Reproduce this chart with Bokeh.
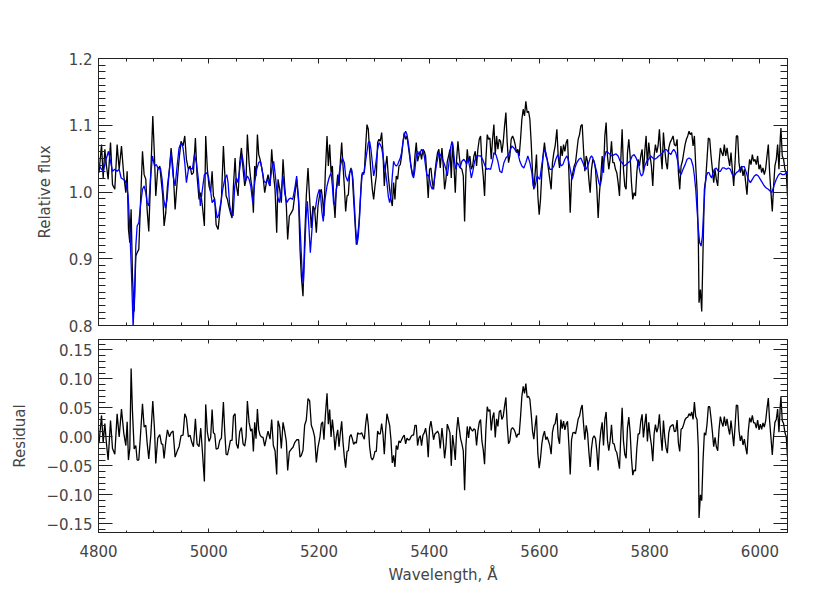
from bokeh.plotting import figure
from bokeh.layouts import column
from bokeh.models import SingleIntervalTicker, FixedTicker, LinearAxis, CustomJSTickFormatter, Range1d
from bokeh.embed import file_html
from bokeh.resources import INLINE

# ---------------- data ----------------
wl_obs = [4801, 4805.5, 4808.5, 4811.5, 4814.5, 4817.5, 4821.8, 4825.4, 4829.6, 4833.8, 4837.5, 4841.7,
          4845.9, 4849.6, 4852, 4854.4, 4856.8, 4859.2, 4861.6, 4864.7, 4867.7, 4870.1, 4873.1, 4876.1,
          4879.8, 4882.8, 4885.8, 4888.2, 4891.2, 4894.9, 4898.5, 4901.5, 4903.9, 4907.5, 4911.2, 4914.2,
          4916.6, 4919, 4922, 4925.1, 4928.7, 4931.7, 4935.3, 4939, 4942.6, 4946.2, 4949.8, 4953.4,
          4956.5, 4959.5, 4963.1, 4966.1, 4969.1, 4972.2, 4975.8, 4978.8, 4982.4, 4985.5, 4988.5, 4992.1,
          4994.5, 4997.5, 5000.5, 5003.5,
          5006.1, 5008.5, 5010.9, 5013.4, 5017, 5020, 5023, 5026.6, 5029, 5031.5, 5033.9, 5036.3,
          5039.3, 5042.3, 5044.8, 5047.8, 5050.2, 5053.2, 5056.2, 5059.3, 5062.3, 5065.3, 5067.7, 5070.1,
          5073.2, 5076.2, 5078.6, 5081, 5083.4, 5085.8, 5088.3, 5090.7, 5093.1, 5095.5, 5098.5, 5101.5,
          5104.6, 5107.6, 5111.2, 5114.2, 5117.2, 5120.3, 5123.3, 5125.7, 5128.7, 5131.7, 5134.8, 5137.8,
          5140.8, 5143.2, 5146.2, 5149.9, 5152.9, 5155.9, 5159.5, 5163.1, 5165.6, 5168, 5171, 5174,
          5177, 5180.1, 5183.1, 5186.1, 5189.1, 5192.1, 5195.2, 5198.2, 5201.8, 5204.2, 5206.6, 5209,
          5211.5,
          5214.6, 5217, 5219.4, 5221.9, 5224.3, 5226.7, 5229.1, 5231.5, 5234, 5236.4, 5238.8, 5241.2,
          5243.6, 5246, 5248.4, 5250.9, 5253.3, 5255.7, 5258.1, 5260.5, 5262.9, 5265.4, 5267.8, 5270.2,
          5272.6, 5275, 5277.4, 5279.8, 5282.3, 5284.7, 5287.1, 5289.5, 5291.9, 5294.3, 5296.8, 5299.2,
          5301.6, 5304, 5306.4, 5308.8, 5311.2, 5313.7, 5316.1, 5318.5, 5320.9, 5323.3, 5325.7, 5328.2,
          5330.6, 5333, 5335.4, 5337.8, 5340.2, 5342.7, 5345.1, 5347.5, 5349.9, 5352.3, 5354.7, 5357.2,
          5359.6, 5362, 5364.4, 5366.8, 5369.2, 5371.6, 5374.1, 5376.5, 5378.9, 5381.3, 5383.7, 5386.1,
          5388.6, 5391, 5393.4, 5395.8, 5398.2, 5400.6, 5403.1, 5405.5, 5407.9, 5410.3, 5412.7, 5415.1,
          5417.5, 5420,
          5423.1, 5425.5, 5427.9, 5430.4, 5432.8, 5435.2, 5437.6, 5440, 5442.4, 5444.9, 5447.3, 5449.7,
          5452.1, 5454.5, 5456.9, 5459.3, 5461.8, 5464.2, 5466.6, 5469, 5471.4, 5473.8, 5476.3, 5478.7,
          5481.1, 5483.5, 5485.9, 5488.3, 5490.8, 5493.2, 5495.6, 5498, 5500.4, 5502.8, 5505.3, 5507.7,
          5510.1, 5512.5, 5514.9, 5517.3, 5519.8, 5522.2, 5524.6, 5527, 5529.4, 5531.8, 5534.2, 5536.7,
          5539.1, 5541.5, 5543.9, 5546.3, 5548.7, 5551.2, 5553.6, 5556, 5558.4, 5560.8, 5563.2, 5565.7,
          5568.1, 5570.5, 5572.9, 5575.3, 5577.7, 5580.2, 5582.6, 5585, 5587.4, 5589.8, 5592.2, 5594.6,
          5597.1, 5599.5, 5601.9, 5604.3, 5606.7, 5609.1, 5611.6, 5614, 5616.4, 5618.8, 5621.2, 5623.6,
          5626.1, 5628.5,
          5631.6, 5634, 5636.4, 5638.9, 5641.3, 5643.7, 5646.1, 5648.5, 5650.9, 5653.4, 5655.8, 5658.2,
          5660.6, 5663, 5665.4, 5667.8, 5670.3, 5672.7, 5675.1, 5677.5, 5679.9, 5682.3, 5684.8, 5687.2,
          5689.6, 5692, 5694.4, 5696.8, 5699.3, 5701.7, 5704.1, 5706.5, 5708.9, 5711.3, 5713.8, 5716.2,
          5718.6, 5721, 5723.4, 5725.8, 5728.2, 5730.7, 5733.1, 5735.5, 5737.9, 5740.3, 5742.7, 5745.2,
          5747.6, 5750, 5752.4, 5754.8, 5757.2, 5759.7, 5762.1, 5764.5, 5766.9, 5769.3, 5771.7, 5774.2,
          5776.6, 5779, 5781.4, 5783.8, 5786.2, 5788.6, 5791.1, 5793.5, 5795.9, 5798.3, 5800.7, 5803.1,
          5805.6, 5808, 5810.4, 5812.8, 5815.2, 5817.6, 5820.1, 5822.5, 5824.9, 5827.3, 5829.7, 5832.1,
          5834.6, 5837,
          5840, 5842.4, 5844.8, 5847.3, 5849.7, 5852.1, 5854.5, 5856.9, 5859.3, 5861.8, 5864.2, 5866.6,
          5869, 5871.4, 5873.8, 5876.2, 5878.7, 5881.1, 5883.5, 5885.9, 5888.3, 5889.5, 5892, 5894.4,
          5896.8, 5899.2, 5901.6, 5904, 5906.4, 5908.9, 5911.3, 5913.7, 5916.1, 5918.5, 5920.9, 5923.4,
          5925.8, 5928.2, 5930.6, 5933, 5935.4, 5937.9, 5940.3, 5942.7, 5945.1, 5947.5, 5949.9, 5952.4,
          5954.8, 5957.2, 5959.6, 5962, 5964.4, 5966.8, 5969.3, 5971.7, 5974.1, 5976.5, 5978.9, 5981.3,
          5983.8, 5986.2, 5988.6, 5991, 5993.4, 5995.8, 5998.3, 6000.7, 6003.1, 6005.5, 6007.9, 6010.3,
          6012.8, 6015.2, 6017.6, 6020, 6022.4, 6024.8, 6027.2, 6029.7, 6032.1, 6034.5, 6036.9, 6038.1,
          6040.5, 6042.9, 6045.4, 6047.8, 6050]
flux_obs = [1.029, 1.071, 1.021, 1.064, 1.039, 1.019, 1.074, 1.011, 1.004, 1.071, 1.034, 1.069,
            1.024, 0.999, 1.031, 0.944, 0.924, 0.974, 0.874, 0.821, 0.904, 0.909, 0.914, 0.981,
            1.061, 1.026, 1.019, 0.974, 0.941, 1.029, 1.114, 1.054, 0.994, 1.034, 1.039, 1.014,
            0.994, 0.949, 0.969, 1.009, 1.034, 1.066, 1.034, 0.974, 1.014, 1.049, 1.076, 1.069,
            1.084, 1.049, 1.034, 1.039, 1.026, 1.029, 1.081, 1.024, 0.989, 0.999, 0.979, 0.949,
            1.084, 1.034, 1.009, 1.000,
            1.031, 0.994, 0.989, 0.951, 0.944, 0.969, 0.989, 1.069, 1.029, 0.994, 0.989, 0.979,
            0.969, 0.961, 1.009, 1.051, 1.009, 0.994, 1.044, 1.066, 1.034, 1.009, 1.019, 1.086,
            1.044, 1.019, 1.006, 0.969, 1.039, 1.024, 1.086, 1.056, 1.049, 1.039, 1.024, 0.999,
            1.014, 1.026, 1.009, 1.064, 1.029, 1.004, 0.939, 1.019, 1.004, 0.984, 1.049, 1.009,
            0.979, 0.929, 0.964, 0.969, 0.974, 0.994, 1.019, 0.984, 0.914, 0.874, 0.844, 0.929,
            0.994, 1.036, 0.989, 0.946, 0.979, 0.974, 0.939, 0.979, 0.999, 1.004, 0.989, 0.964,
            1.029,
            1.084, 1.039, 1.071, 1.029, 1.039, 0.989, 0.961, 1.004, 1.026, 1.009, 1.046, 1.074,
            1.039, 1.009, 0.971, 0.994, 0.996, 1.029, 1.036, 1.024, 0.989, 0.954, 0.921, 0.934,
            0.954, 0.989, 1.024, 1.029, 1.029, 1.069, 1.101, 1.094, 1.059, 1.029, 1.004, 0.989,
            1.009, 1.024, 1.074, 1.079, 1.076, 1.089, 1.059, 1.009, 1.039, 1.054, 1.024, 1.004,
            0.989, 0.979, 1.014, 0.989, 1.024, 1.019, 1.039, 1.041, 1.054, 1.074, 1.089, 1.079,
            1.084, 1.069, 1.054, 1.039, 1.029, 1.024, 1.054, 1.074, 1.046, 1.054, 1.061, 1.049,
            1.064, 1.061, 1.054, 1.024, 0.991, 1.034, 1.036, 1.016, 1.004, 1.029, 1.046, 1.059,
            1.064, 1.036,
            1.066, 1.039, 1.004, 1.019, 1.046, 1.054, 1.064, 1.021, 1.074, 1.039, 0.999, 1.049,
            1.076, 1.054, 1.036, 1.034, 1.024, 0.956, 1.029, 1.064, 1.044, 1.054, 1.034, 1.039,
            1.054, 1.061, 1.039, 1.064, 1.079, 1.084, 1.044, 1.024, 0.994, 1.049, 1.086, 1.079,
            1.081, 1.049, 1.079, 1.101, 1.056, 1.084, 1.064, 1.079, 1.076, 1.059, 1.074, 1.099,
            1.119, 1.074, 1.044, 1.054, 1.079, 1.084, 1.079, 1.071, 1.059, 1.064, 1.054, 1.079,
            1.109, 1.124, 1.114, 1.136, 1.119, 1.121, 1.109, 1.074, 1.029, 1.004, 1.029, 1.056,
            0.994, 0.966, 0.989, 1.029, 1.056, 1.074, 1.054, 1.049, 1.034, 1.019, 1.004, 1.044,
            1.059, 1.069,
            1.094, 1.054, 1.036, 1.069, 1.054, 1.071, 1.061, 1.074, 1.079, 1.029, 0.969, 1.019,
            1.029, 1.039, 1.044, 1.061, 1.079, 1.086, 1.099, 1.101, 1.064, 1.031, 1.054, 1.046,
            1.019, 0.999, 1.034, 1.049, 1.046, 1.034, 1.004, 0.961, 0.999, 1.024, 1.054, 1.029,
            1.084, 1.104, 1.054, 1.034, 1.049, 1.076, 1.044, 1.044, 1.034, 1.029, 1.014, 0.994,
            1.049, 1.094, 1.034, 1.009, 1.004, 1.059, 1.079, 1.054, 1.014, 0.989, 0.999, 0.994,
            1.029, 1.049, 1.039, 1.054, 1.064, 1.029, 1.061, 1.084, 1.039, 1.074, 1.054, 1.039,
            1.009, 1.054, 1.071, 1.059, 1.069, 1.094, 1.059, 1.034, 1.089, 1.064, 1.044, 1.034,
            1.066, 1.074,
            1.079, 1.084, 1.071, 1.069, 1.079, 1.029, 1.004, 1.039, 1.046, 1.059, 1.071, 1.079,
            1.084, 1.091, 1.086, 1.089, 1.069, 1.084, 1.039, 1.004, 0.924, 0.834, 0.854, 0.821,
            0.914, 1.004, 1.019, 1.049, 1.081, 1.079, 1.054, 1.034, 1.014, 1.034, 1.019, 1.009,
            1.044, 1.066, 1.059, 1.054, 1.071, 1.054, 1.066, 1.051, 1.039, 1.059, 1.034, 1.009,
            1.044, 1.084, 1.084, 1.044, 1.029, 1.039, 1.024, 1.034, 1.014, 0.996, 1.029, 1.049,
            1.041, 1.056, 1.046, 1.049, 1.041, 1.054, 1.034, 1.041, 1.029, 1.036, 1.026, 1.034,
            1.054, 1.071, 1.029, 0.999, 0.971, 1.009, 1.039, 1.049, 1.071, 1.034, 1.081, 1.096,
            1.054, 1.049, 1.034, 1.029, 0.994]

wl_mod = [4801.2, 4805.5, 4808.5, 4811.5, 4814.5, 4818.1, 4821.8, 4825.4, 4829.6, 4833.8, 4837.5, 4841.1,
          4844.7, 4848.3, 4850.8, 4853.8, 4856.8, 4859.8, 4862.8, 4865.3, 4867.7, 4870.1, 4873.1, 4876.1,
          4879.8, 4882.8, 4885.8, 4888.2, 4891.2, 4894.2, 4897.9, 4901.5, 4905.1, 4908.7, 4912.4, 4915.4,
          4918.4, 4921.4, 4924.4, 4928.1, 4931.7, 4935.3, 4939, 4942.6, 4946.2, 4949.8, 4953.4, 4956.5,
          4959.5, 4963.1, 4966.7, 4970.4, 4974, 4977.6, 4981.2, 4984.8, 4988.5, 4992.1, 4995.7, 4999.3,
          5003,
          5006.1, 5009.7, 5012.2, 5015.2, 5018.2, 5021.8, 5025.4, 5029, 5032.7, 5035.1, 5038.1, 5041.1,
          5044.2, 5047.2, 5050.2, 5053.2, 5056.8, 5060.5, 5063.5, 5066.5, 5070.1, 5073.2, 5076.2, 5079.8,
          5083.4, 5087, 5090.7, 5093.7, 5096.7, 5100.3, 5103.4, 5106.4, 5110.6, 5114.2, 5117.8, 5120.9,
          5124.5, 5128.1, 5131.7, 5134.8, 5137.8, 5141.4, 5145, 5148.7, 5152.3, 5155.9, 5159.5, 5163.1,
          5166.2, 5169.2, 5171.6, 5174, 5176.4, 5178.9, 5181.3, 5184.3, 5187.3, 5189.7, 5193.3, 5197,
          5200.6, 5203, 5205.4, 5207.8, 5210.9,
          5214.6, 5218.2, 5221.9, 5224.3, 5226.7, 5229.1, 5231.5, 5235.1, 5238.8, 5242.4, 5246, 5248.4,
          5252.1, 5255.7, 5259.3, 5261.7, 5264.1, 5266.6, 5269, 5271.4, 5273.8, 5276.2, 5278.6, 5281,
          5283.5, 5285.9, 5289.5, 5291.9, 5294.3, 5296.8, 5299.2, 5301.6, 5304, 5306.4, 5308.8, 5311.2,
          5313.7, 5316.1, 5318.5, 5320.9, 5323.3, 5325.7, 5328.2, 5330.6, 5333, 5335.4, 5337.8, 5340.2,
          5342.7, 5345.1, 5347.5, 5349.9, 5352.3, 5354.7, 5357.2, 5359.6, 5362, 5364.4, 5366.8, 5369.2,
          5371.6, 5374.1, 5376.5, 5378.9, 5381.3, 5383.7, 5386.1, 5388.6, 5391, 5393.4, 5395.8, 5398.2,
          5400.6, 5403.1, 5405.5, 5407.9, 5410.3, 5412.7, 5415.1, 5417.5, 5420,
          5423.1, 5426.7, 5430.4, 5432.8, 5435.2, 5438.8, 5441.2, 5443.6, 5446.1, 5448.5, 5450.9, 5453.3,
          5455.7, 5459.3, 5463, 5465.4, 5467.8, 5470.2, 5473.8, 5476.3, 5478.7, 5482.3, 5485.9, 5489.5,
          5493.2, 5496.8, 5500.4, 5504, 5507.7, 5511.3, 5514.9, 5517.3, 5521, 5524.6, 5528.2, 5531.8,
          5535.5, 5539.1, 5542.7, 5546.3, 5549.9, 5553.6, 5557.2, 5560.8, 5564.4, 5568.1, 5571.7, 5575.3,
          5578.9, 5582.6, 5586.2, 5588.6, 5591, 5593.4, 5595.9, 5598.3, 5600.7, 5603.1, 5606.7, 5609.1,
          5611.6, 5615.2, 5618.8, 5622.4, 5626.1, 5629.7,
          5633.3, 5635.2, 5638.9, 5642.5, 5646.1, 5649.7, 5652.1, 5654.6, 5657, 5659.4, 5661.8, 5664.2,
          5667.8, 5671.5, 5675.1, 5678.7, 5682.3, 5684.8, 5688.4, 5692, 5694.4, 5696.8, 5700.5, 5704.1,
          5707.7, 5710.1, 5712.5, 5715, 5718.6, 5721, 5724.6, 5728.2, 5731.9, 5735.5, 5739.1, 5742.7,
          5746.4, 5750, 5753.6, 5757.2, 5760.9, 5764.5, 5768.1, 5771.7, 5775.4, 5779, 5782.6, 5785,
          5787.4, 5791.1, 5794.7, 5798.3, 5801.9, 5805.6, 5809.2, 5812.8, 5816.4, 5820.1, 5823.7, 5827.3,
          5830.9, 5834.6, 5838.2,
          5840.5, 5843.6, 5847.3, 5850.9, 5854.5, 5856.9, 5860.5, 5864.2, 5867.8, 5871.4, 5875, 5878.7,
          5881.1, 5883.5, 5885.9, 5888.3, 5890.7, 5893.2, 5895.6, 5898, 5900.4, 5902.8, 5905.2, 5907.7,
          5910.1, 5912.5, 5914.9, 5917.3, 5920.9, 5924.6, 5928.2, 5931.8, 5935.4, 5939.1, 5942.7, 5946.3,
          5949.9, 5953.6, 5957.2, 5960.8, 5964.4, 5968.1, 5971.7, 5975.3, 5978.9, 5982.6, 5986.2, 5989.8,
          5993.4, 5997.1, 6000.7, 6004.3, 6007.9, 6011.5, 6015.2, 6018.8, 6021.2, 6023.6, 6026, 6029.7,
          6033.3, 6036.9, 6040.5, 6044.2, 6047.8, 6050]
flux_mod = [1.040, 1.034, 1.031, 1.041, 1.051, 1.061, 1.046, 1.031, 1.034, 1.031, 1.034, 1.021,
            1.019, 1.017, 1.011, 0.994, 0.944, 0.879, 0.798, 0.844, 0.919, 0.949, 0.954, 0.979,
            1.004, 1.009, 0.999, 0.984, 0.979, 1.019, 1.054, 1.039, 1.041, 1.034, 1.036, 1.019,
            0.989, 0.976, 0.989, 1.029, 1.059, 1.024, 1.009, 1.039, 1.066, 1.074, 1.066, 1.044,
            1.014, 1.034, 1.036, 1.034, 1.056, 1.044, 1.019, 0.979, 1.004, 1.026, 1.029, 1.024,
            1.004,
            0.984, 0.989, 0.979, 0.961, 0.966, 0.984, 1.004, 1.019, 1.026, 1.014, 0.979, 0.969,
            0.964, 1.009, 1.021, 1.014, 1.039, 1.056, 1.039, 1.016, 1.024, 1.019, 1.009, 0.984,
            1.014, 1.034, 1.044, 1.046, 1.034, 1.016, 1.014, 1.019, 1.009, 1.034, 1.046, 1.024,
            0.994, 0.984, 1.004, 1.024, 0.999, 0.984, 0.989, 0.991, 0.989, 1.004, 1.024, 0.989,
            0.939, 0.884, 0.862, 0.909, 0.959, 0.986, 0.954, 0.909, 0.944, 0.974, 0.974, 0.994,
            1.004, 0.994, 0.969, 0.956, 0.989,
            1.009, 1.021, 1.029, 1.009, 0.981, 0.984, 1.004, 1.019, 1.039, 1.051, 1.044, 1.024,
            1.016, 1.029, 1.034, 1.019, 0.984, 0.944, 0.921, 0.934, 0.964, 1.004, 1.029, 1.026,
            1.039, 1.054, 1.074, 1.076, 1.064, 1.044, 1.024, 1.034, 1.049, 1.064, 1.074, 1.071,
            1.066, 1.054, 1.039, 1.029, 1.014, 0.994, 0.984, 0.994, 1.024, 1.046, 1.041, 1.039,
            1.041, 1.046, 1.051, 1.059, 1.074, 1.086, 1.091, 1.086, 1.074, 1.059, 1.039, 1.026,
            1.021, 1.034, 1.054, 1.061, 1.056, 1.059, 1.064, 1.061, 1.054, 1.039, 1.024, 1.026,
            1.019, 1.009, 1.004, 1.009, 1.024, 1.039, 1.049, 1.059, 1.056,
            1.051, 1.044, 1.034, 1.024, 1.039, 1.066, 1.076, 1.066, 1.044, 1.034, 1.044, 1.041,
            1.036, 1.046, 1.049, 1.046, 1.041, 1.051, 1.036, 1.021, 1.029, 1.046, 1.054, 1.054,
            1.054, 1.049, 1.041, 1.034, 1.035, 1.034, 1.046, 1.059, 1.056, 1.046, 1.031, 1.029,
            1.044, 1.051, 1.054, 1.061, 1.069, 1.066, 1.061, 1.059, 1.046, 1.039, 1.036, 1.044,
            1.054, 1.044, 1.029, 1.009, 1.006, 1.014, 1.024, 1.021, 1.019, 1.034, 1.054, 1.064,
            1.059, 1.044, 1.034, 1.034, 1.039, 1.049,
            1.056, 1.052, 1.039, 1.041, 1.049, 1.054, 1.049, 1.039, 1.029, 1.019, 1.026, 1.036,
            1.044, 1.049, 1.051, 1.044, 1.036, 1.034, 1.041, 1.051, 1.054, 1.051, 1.041, 1.029,
            1.014, 1.009, 1.019, 1.039, 1.054, 1.061, 1.059, 1.056, 1.054, 1.056, 1.057, 1.054,
            1.046, 1.044, 1.039, 1.041, 1.044, 1.046, 1.054, 1.056, 1.051, 1.044, 1.029, 1.024,
            1.026, 1.039, 1.046, 1.049, 1.054, 1.051, 1.049, 1.051, 1.054, 1.056, 1.059, 1.064,
            1.063, 1.059, 1.056,
            1.060, 1.064, 1.059, 1.046, 1.029, 1.026, 1.034, 1.041, 1.049, 1.051, 1.049, 1.039,
            1.024, 1.004, 0.974, 0.944, 0.924, 0.919, 0.934, 0.974, 1.009, 1.024, 1.029, 1.029,
            1.024, 1.021, 1.029, 1.034, 1.036, 1.031, 1.031, 1.036, 1.036, 1.034, 1.036, 1.034,
            1.026, 1.024, 1.029, 1.031, 1.036, 1.038, 1.038, 1.029, 1.019, 1.014, 1.019, 1.024,
            1.026, 1.024, 1.019, 1.014, 1.009, 1.006, 1.004, 1.001, 0.999, 1.004, 1.011, 1.019,
            1.025, 1.028, 1.026, 1.026, 1.029, 1.029]

wl_res = wl_obs
resid = [-0.011, 0.037, -0.010, 0.023, -0.012, -0.040, 0.028, -0.020, -0.030, 0.040, 0.000, 0.048,
         0.006, -0.015, 0.026, -0.040, -0.020, 0.118, 0.044, -0.021, -0.015, -0.040, -0.040, 0.002,
         0.057, 0.017, 0.020, -0.010, -0.038, 0.003, 0.062, 0.015, -0.046, -0.002, 0.004, -0.012,
         -0.013, -0.037, -0.009, 0.012, 0.000, 0.007, 0.010, -0.035, -0.025, -0.017, 0.002, 0.003,
         0.040, 0.033, 0.000, 0.003, -0.009, -0.017, 0.031, -0.012, -0.017, 0.015, -0.025, -0.077,
         0.056, 0.008, -0.008, -0.001,
         0.047, 0.007, 0.005, -0.021, -0.020, -0.006, -0.002, 0.060, 0.010, -0.030, -0.031, -0.021,
         -0.006, -0.006, 0.036, 0.040, -0.012, -0.020, 0.009, 0.016, -0.012, -0.016, 0.000, 0.062,
         0.025, 0.010, 0.014, -0.025, 0.025, -0.003, 0.048, 0.012, 0.003, 0.000, -0.001, -0.016,
         -0.002, 0.010, -0.004, 0.030, -0.015, -0.024, -0.065, 0.028, 0.017, -0.020, 0.025, 0.010,
         -0.008, -0.058, -0.026, -0.021, -0.018, -0.010, -0.005, -0.005, -0.035, -0.032, -0.023, 0.020,
         0.029, 0.066, 0.062, 0.020, 0.012, 0.000, -0.044, -0.018, 0.000, 0.022, 0.026, -0.005,
         0.036,
         0.075, 0.022, 0.047, 0.000, 0.030, 0.008, -0.023, 0.000, 0.012, -0.017, 0.007, 0.027,
         -0.009, -0.035, -0.053, -0.025, -0.024, 0.000, 0.004, -0.003, -0.013, -0.009, -0.011, 0.007,
         0.005, 0.005, 0.007, 0.001, -0.004, 0.022, 0.040, 0.020, -0.017, -0.035, -0.040, -0.035,
         -0.025, -0.025, 0.010, 0.005, 0.005, 0.023, 0.005, -0.030, 0.010, 0.040, 0.030, 0.020,
         -0.005, -0.045, -0.032, -0.052, -0.015, -0.022, -0.007, -0.010, -0.005, 0.000, 0.003, -0.012,
         -0.002, -0.005, -0.005, 0.000, 0.003, 0.003, 0.020, 0.020, -0.015, -0.002, 0.002, -0.015,
         0.003, 0.007, 0.015, 0.000, -0.035, 0.015, 0.027, 0.012, -0.005, 0.005, 0.007, 0.010,
         0.005, -0.020,
         0.015, -0.007, -0.037, -0.015, 0.022, 0.015, 0.007, -0.050, 0.003, -0.016, -0.040, 0.010,
         0.034, 0.015, -0.003, -0.012, -0.024, -0.092, -0.015, 0.018, -0.002, 0.018, 0.013, 0.010,
         0.014, 0.012, -0.015, 0.010, 0.025, 0.030, -0.007, -0.022, -0.047, 0.013, 0.052, 0.044,
         0.047, 0.011, 0.033, 0.042, -0.001, 0.031, 0.018, 0.043, 0.046, 0.030, 0.035, 0.053,
         0.068, 0.021, -0.012, -0.007, 0.013, 0.016, 0.013, 0.008, -0.001, 0.005, 0.004, 0.035,
         0.070, 0.087, 0.075, 0.092, 0.068, 0.070, 0.065, 0.040, 0.010, -0.004, 0.019, 0.037,
         -0.029, -0.054, -0.037, -0.012, 0.002, 0.010, -0.005, 0.000, -0.007, -0.015, -0.030, 0.008,
         0.020, 0.023,
         0.041, -0.001, -0.012, 0.030, 0.014, 0.027, 0.012, 0.022, 0.027, -0.014, -0.065, -0.005,
         0.007, 0.008, 0.005, 0.017, 0.031, 0.036, 0.048, 0.055, 0.023, -0.005, 0.020, 0.007,
         -0.025, -0.052, -0.020, -0.002, 0.002, -0.003, -0.025, -0.058, -0.013, 0.010, 0.025, -0.015,
         0.030, 0.043, -0.006, -0.024, -0.007, 0.021, -0.011, -0.012, -0.023, -0.027, -0.040, -0.055,
         0.003, 0.050, -0.007, -0.030, -0.037, 0.016, 0.034, 0.008, -0.037, -0.066, -0.057, -0.059,
         -0.020, 0.005, 0.005, 0.027, 0.039, -0.001, 0.022, 0.040, -0.008, 0.025, 0.002, -0.014,
         -0.042, 0.005, 0.021, 0.008, 0.016, 0.039, 0.003, -0.024, 0.028, 0.000, -0.019, -0.028,
         0.007, 0.017,
         0.020, 0.021, 0.009, 0.010, 0.029, -0.011, -0.025, 0.013, 0.015, 0.022, 0.030, 0.033,
         0.034, 0.040, 0.036, 0.043, 0.030, 0.060, 0.035, 0.030, -0.020, -0.140, -0.100, -0.110,
         -0.040, 0.007, 0.003, 0.022, 0.052, 0.052, 0.032, 0.009, -0.017, -0.001, -0.017, -0.024,
         0.013, 0.035, 0.025, 0.018, 0.035, 0.019, 0.031, 0.015, 0.004, 0.028, 0.008, -0.016,
         0.018, 0.055, 0.054, 0.011, -0.007, 0.002, -0.014, -0.004, -0.018, -0.030, 0.010, 0.033,
         0.025, 0.037, 0.024, 0.024, 0.015, 0.029, 0.012, 0.022, 0.013, 0.024, 0.017, 0.027,
         0.049, 0.067, 0.027, -0.001, -0.031, 0.001, 0.025, 0.030, 0.048, 0.008, 0.053, 0.069,
         0.028, 0.023, 0.007, 0.000, -0.035]

# tick values
flux_ticks = [0.8, 0.9, 1.0, 1.1, 1.2]
res_ticks = [-0.15, -0.1, -0.05, 0.0, 0.05, 0.1, 0.15]

FONT = "DejaVu Sans"
TXT = "#454545"
AX = "#222222"
FS = "15px"

xticker = SingleIntervalTicker(interval=200, num_minor_ticks=4)


def tick_only_axis(ticker, tin, tmin):
    return LinearAxis(ticker=ticker, major_tick_in=tin, major_tick_out=0, minor_tick_in=tmin,
                      minor_tick_out=0, major_label_text_font_size="0px", major_label_standoff=0,
                      axis_line_color=AX, major_tick_line_color=AX, minor_tick_line_color=AX)


def style(p, yticker, ylabel, fmt, xlabels, xtick_major, xtick_minor, ylab_standoff):
    p.outline_line_color = AX
    p.outline_line_width = 1
    p.grid.visible = False
    p.background_fill_color = "white"
    p.border_fill_color = "white"
    ya = p.yaxis[0]
    ya.ticker = yticker
    ya.formatter = CustomJSTickFormatter(code=fmt)
    ya.major_tick_in = 14
    ya.major_tick_out = 0
    ya.minor_tick_in = 7
    ya.minor_tick_out = 0
    ya.axis_line_color = AX
    ya.major_tick_line_color = AX
    ya.minor_tick_line_color = AX
    ya.major_label_text_font = FONT
    ya.major_label_text_font_size = FS
    ya.major_label_text_color = TXT
    ya.major_label_standoff = 6
    ya.axis_label = ylabel
    ya.axis_label_text_font = FONT
    ya.axis_label_text_font_size = FS
    ya.axis_label_text_font_style = "normal"
    ya.axis_label_text_color = TXT
    ya.axis_label_standoff = ylab_standoff
    p.add_layout(tick_only_axis(yticker, 14, 7), "right")
    xa = p.xaxis[0]
    xa.ticker = xticker
    xa.major_tick_in = xtick_major
    xa.major_tick_out = 0
    xa.minor_tick_in = xtick_minor
    xa.minor_tick_out = 0
    xa.axis_line_color = AX
    xa.major_tick_line_color = AX
    xa.minor_tick_line_color = AX
    if xlabels:
        xa.major_label_text_font = FONT
        xa.major_label_text_font_size = FS
        xa.major_label_text_color = TXT
        xa.major_label_standoff = 12
        xa.axis_label = "Wavelength, Å"
        xa.axis_label_text_font = FONT
        xa.axis_label_text_font_size = FS
        xa.axis_label_text_font_style = "normal"
        xa.axis_label_text_color = TXT
        xa.axis_label_standoff = 6
    else:
        xa.major_label_text_font_size = "0px"
        xa.major_label_standoff = 0
    p.add_layout(tick_only_axis(xticker, xtick_major, xtick_minor), "above")


xr = Range1d(4800, 6050)

p1 = figure(output_backend="svg", toolbar_location=None, x_range=xr, y_range=Range1d(0.8, 1.2),
            frame_width=689, frame_height=267, min_border_left=98, min_border_right=20,
            min_border_top=58, min_border_bottom=9)
flux_minor = [round(0.8 + 0.01 * i, 2) for i in range(41)]
style(p1, FixedTicker(ticks=flux_ticks, minor_ticks=flux_minor), "Relative flux",
      "return tick.toFixed(1);", False, 5, 3, 12)
p1.line(wl_obs, flux_obs, line_color="black", line_width=1.3)
p1.line(wl_mod, flux_mod, line_color="#0000ff", line_width=1.3)

p2 = figure(output_backend="svg", toolbar_location=None, x_range=xr, y_range=Range1d(-0.165, 0.168),
            frame_width=689, frame_height=193, min_border_left=98, min_border_right=20,
            min_border_top=5, min_border_bottom=50)
res_minor = [round(-0.16 + 0.01 * i, 2) for i in range(33)]
style(p2, FixedTicker(ticks=res_ticks, minor_ticks=res_minor), "Residual",
      "return tick.toFixed(2).replace('-', '\u2212');", True, 4, 2, 15)
p2.line(wl_res, resid, line_color="black", line_width=1.3)

layout = column(p1, p2, spacing=0)
open("out.html", "w").write(file_html(layout, INLINE))
